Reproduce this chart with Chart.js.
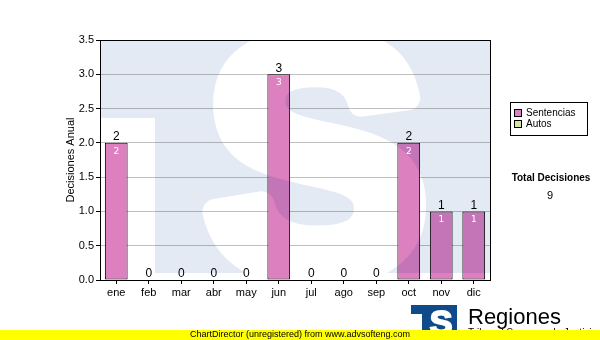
<!DOCTYPE html>
<html>
<head>
<meta charset="utf-8">
<script src="https://cdn.jsdelivr.net/npm/chart.js@4/dist/chart.umd.min.js"></script>
<style>
  html, body { margin: 0; padding: 0; background: #fff; }
  #wrap { width: 600px; height: 340px; }
</style>
</head>
<body>
<div id="wrap"><canvas id="canvasDecisiones" width="600" height="340"></canvas></div>
<script>
// datos
var meses = ["ene", "feb", "mar", "abr", "may", "jun", "jul", "ago", "sep", "oct", "nov", "dic"];
var sentencias = [2, 0, 0, 0, 0, 3, 0, 0, 0, 2, 1, 1];
var autos = [0, 0, 0, 0, 0, 0, 0, 0, 0, 0, 0, 0];
var nombres = ["Sentencias", "Autos"];
var colores = ["#dd80c0", "#d4e8a4"];
var tituloY = "Decisiones Anual";
var totalTitulo = "Total Decisiones";

Chart.defaults.font.family = "'Liberation Sans', Arial, sans-serif";
Chart.defaults.color = "#000";

// marca de agua en un canvas aparte
function MarcaAgua(w, h, a) {
    var c = document.createElement("canvas");
    c.width = w; c.height = h;
    var g = c.getContext("2d");
    g.fillStyle = "#fff";
    g.fillRect(0, 0, w, h);
    g.fillStyle = "#e3eaf3";
    g.fillRect(a.left, a.top, a.right - a.left, 233);
    g.fillStyle = "#fff";
    g.fillRect(a.left, 118, 55, 160);
    g.font = "bold 330px 'Liberation Sans'";
    g.textAlign = "center";
    g.textBaseline = "alphabetic";
    g.strokeStyle = "#fff";
    g.lineWidth = 26;
    g.lineJoin = "round";
    g.fillText("S", 316, 271);
    g.strokeText("S", 316, 271);
    return c;
}

// marca de agua + rotulos + leyenda
var extras = {
    id: "extras",
    afterDatasetsDraw: function (chart) {
        var ctx = chart.ctx;
        var a = chart.chartArea;
        ctx.save();
        ctx.beginPath();
        ctx.rect(a.left, a.top, a.right - a.left, a.bottom - a.top);
        ctx.clip();
        ctx.globalCompositeOperation = "multiply";
        ctx.drawImage(MarcaAgua(chart.width, chart.height, a), 0, 0);
        ctx.restore();

        // borde del area
        ctx.save();
        ctx.strokeStyle = "#000";
        ctx.lineWidth = 1;
        ctx.strokeRect(Math.round(a.left) + 0.5, Math.round(a.top) + 0.5,
            Math.round(a.right - a.left), Math.round(a.bottom - a.top));
        ctx.restore();

        // rotulos de valores
        var meta = chart.getDatasetMeta(0);
        ctx.save();
        ctx.textAlign = "center";
        for (var i = 0; i < meses.length; i++) {
            var bar = meta.data[i];
            var total = sentencias[i] + autos[i];
            var yTop = chart.scales.y.getPixelForValue(total);
            ctx.fillStyle = "#000";
            ctx.font = "12px 'Liberation Sans'";
            ctx.textBaseline = "bottom";
            ctx.fillText(String(total), bar.x, yTop);
            if (sentencias[i] > 0) {
                ctx.fillStyle = "#fff";
                ctx.font = "9px 'DejaVu Sans'";
                ctx.textBaseline = "top";
                ctx.fillText(String(sentencias[i]), bar.x, yTop + 4);
            }
        }
        ctx.restore();
    },
    afterDraw: function (chart) {
        var ctx = chart.ctx;
        ctx.save();
        // leyenda
        ctx.strokeStyle = "#000";
        ctx.lineWidth = 1;
        ctx.strokeRect(510.5, 102.5, 77, 33);
        ctx.font = "10px 'Liberation Sans'";
        ctx.textBaseline = "middle";
        ctx.textAlign = "left";
        for (var k = 0; k < nombres.length; k++) {
            var yy = 113 + k * 11;
            ctx.fillStyle = colores[k];
            ctx.fillRect(514, yy - 4, 8, 8);
            ctx.strokeStyle = "#000";
            ctx.strokeRect(514.5, yy - 3.5, 7, 7);
            ctx.fillStyle = "#000";
            ctx.fillText(nombres[k], 526, yy + 0.5);
        }
        // total
        var suma = 0;
        for (var i = 0; i < meses.length; i++) { suma += sentencias[i] + autos[i]; }
        ctx.textAlign = "center";
        ctx.font = "bold 10px 'Liberation Sans'";
        ctx.fillText(totalTitulo, 551, 178);
        ctx.font = "11px 'Liberation Sans'";
        ctx.fillText(String(suma), 550, 196);

        // logo
        ctx.fillStyle = "#0f4a8a";
        ctx.fillRect(411, 305, 46, 28);
        ctx.fillStyle = "#fff";
        ctx.fillRect(411, 314, 11, 20);
        ctx.font = "bold 34px 'Liberation Sans'";
        ctx.textAlign = "center";
        ctx.textBaseline = "alphabetic";
        ctx.strokeStyle = "#fff";
        ctx.lineWidth = 2;
        ctx.fillText("S", 441, 334);
        ctx.strokeText("S", 441, 334);
        ctx.fillStyle = "#000";
        ctx.textAlign = "left";
        ctx.font = "22px 'Liberation Sans'";
        ctx.fillText("Regiones", 468, 324);
        ctx.font = "10px 'Liberation Sans'";
        ctx.fillText("Tribunal Supremo de Justicia", 468, 336);

        // franja amarilla
        ctx.fillStyle = "#ffff00";
        ctx.fillRect(0, 330, 600, 10);
        ctx.fillStyle = "#000";
        ctx.font = "9px 'Liberation Sans'";
        ctx.textAlign = "center";
        ctx.textBaseline = "middle";
        ctx.fillText("ChartDirector (unregistered) from www.advsofteng.com", 300, 335);
        ctx.restore();
    }
};

function VeGrafico() {
    new Chart("canvasDecisiones", {
        type: "bar",
        data: {
            labels: meses,
            datasets: [{
                label: nombres[0],
                data: sentencias,
                backgroundColor: colores[0],
                borderColor: "#000",
                borderWidth: function (c) { return c.raw > 0 ? 1 : 0; },
                borderSkipped: false,
                barPercentage: 0.7,
                categoryPercentage: 1
            }, {
                label: nombres[1],
                data: autos,
                backgroundColor: colores[1],
                borderColor: "#000",
                borderWidth: function (c) { return c.raw > 0 ? 1 : 0; },
                borderSkipped: false,
                barPercentage: 0.7,
                categoryPercentage: 1
            }]
        },
        options: {
            responsive: false,
            animation: false,
            layout: { padding: { left: 60, right: 110, top: 40, bottom: 40 } },
            plugins: {
                legend: { display: false },
                tooltip: { enabled: false }
            },
            scales: {
                x: {
                    stacked: true,
                    grid: { display: true, drawOnChartArea: false, offset: false, tickLength: 4, tickColor: "#000" },
                    border: { color: "#000" },
                    ticks: { font: { size: 11 }, padding: 2, maxRotation: 0 },
                    afterFit: function (s) { s.height = 20; }
                },
                y: {
                    stacked: true,
                    min: 0,
                    max: 3.5,
                    grid: { color: "#c0c0c0", tickLength: 4, tickColor: "#000" },
                    border: { color: "#000" },
                    ticks: {
                        stepSize: 0.5,
                        font: { size: 11 },
                        padding: 2,
                        callback: function (v) { return v.toFixed(1); }
                    },
                    title: { display: true, text: tituloY, font: { size: 11 }, padding: { top: 4, bottom: 0 } },
                    afterFit: function (s) { s.width = 40; }
                }
            }
        },
        plugins: [extras]
    });
}

VeGrafico();
</script>
</body>
</html>
